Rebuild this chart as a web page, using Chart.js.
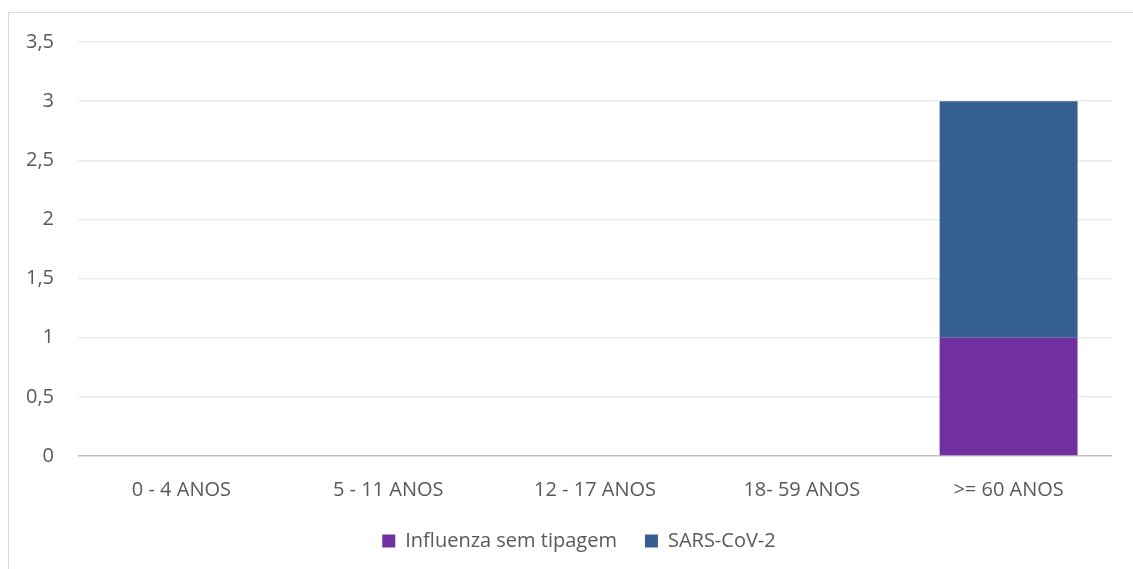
<!DOCTYPE html>
<html>
<head>
<meta charset="utf-8">
<script src="https://cdn.jsdelivr.net/npm/chart.js@4"></script>
<style>
  body { margin: 0; background: #fff; overflow: hidden; }
  #wrap { position: absolute; left: 0; top: 0; width: 1133px; height: 569px; }
  #frame { position: absolute; left: 8px; top: 12px; width: 1200px; height: 700px; border: 1px solid #d9d9d9; }
  canvas { position: absolute; left: 0; top: 0; }
</style>
</head>
<body>
<div id="wrap">
  <div id="frame"></div>
  <canvas id="grafico" width="1133" height="569"></canvas>
</div>
<script>
const faixas = ['0 - 4 ANOS', '5 - 11 ANOS', '12 - 17 ANOS', '18- 59 ANOS', '>= 60 ANOS'];
const influenza = [0, 0, 0, 0, 1];
const sarsCov2 = [0, 0, 0, 0, 2];
const nomesSeries = ['Influenza sem tipagem', 'SARS-CoV-2'];

const fonte = "'Open Sans', sans-serif";
const corTexto = '#595959';

// a legenda do original fica um pouco à direita do centro
const deslocaLegenda = {
    id: 'deslocaLegenda',
    afterLayout(chart) {
        const l = chart.legend;
        if (l) { l.left += 23; l.right += 23; }
    }
};

const ctx = document.getElementById('grafico');
new Chart(ctx, {
    type: 'bar',
    data: {
        labels: faixas,
        datasets: [
            { label: nomesSeries[0], data: influenza, backgroundColor: '#7030a0' },
            { label: nomesSeries[1], data: sarsCov2, backgroundColor: '#376092' }
        ]
    },
    plugins: [deslocaLegenda],
    options: {
        responsive: false,
        animation: false,
        layout: { padding: { left: 0, right: 21, top: 42, bottom: 8 } },
        datasets: { bar: { categoryPercentage: 1, barPercentage: 0.667 } },
        plugins: {
            tooltip: { enabled: false },
            legend: {
                position: 'bottom',
                labels: {
                    boxWidth: 13,
                    boxHeight: 13,
                    padding: 28,
                    color: corTexto,
                    font: { family: fonte, size: 20 }
                }
            }
        },
        scales: {
            x: {
                stacked: true,
                grid: { display: false },
                border: { display: false },
                ticks: { color: corTexto, padding: 14, font: { family: fonte, size: 20 } },
                afterFit: function (axis) { axis.height = 47; }
            },
            y: {
                stacked: true,
                min: 0,
                max: 3.5,
                border: { display: false },
                grid: {
                    drawTicks: false,
                    lineWidth: 1.5,
                    color: function (c) { return c.tick && c.tick.value === 0 ? '#bfbfbf' : '#ececec'; }
                },
                ticks: {
                    stepSize: 0.5,
                    padding: 24,
                    color: corTexto,
                    font: { family: fonte, size: 20 },
                    callback: function (v) { return String(v).replace('.', ','); }
                },
                afterFit: function (axis) { axis.width = 78; }
            }
        }
    }
});
</script>
</body>
</html>
